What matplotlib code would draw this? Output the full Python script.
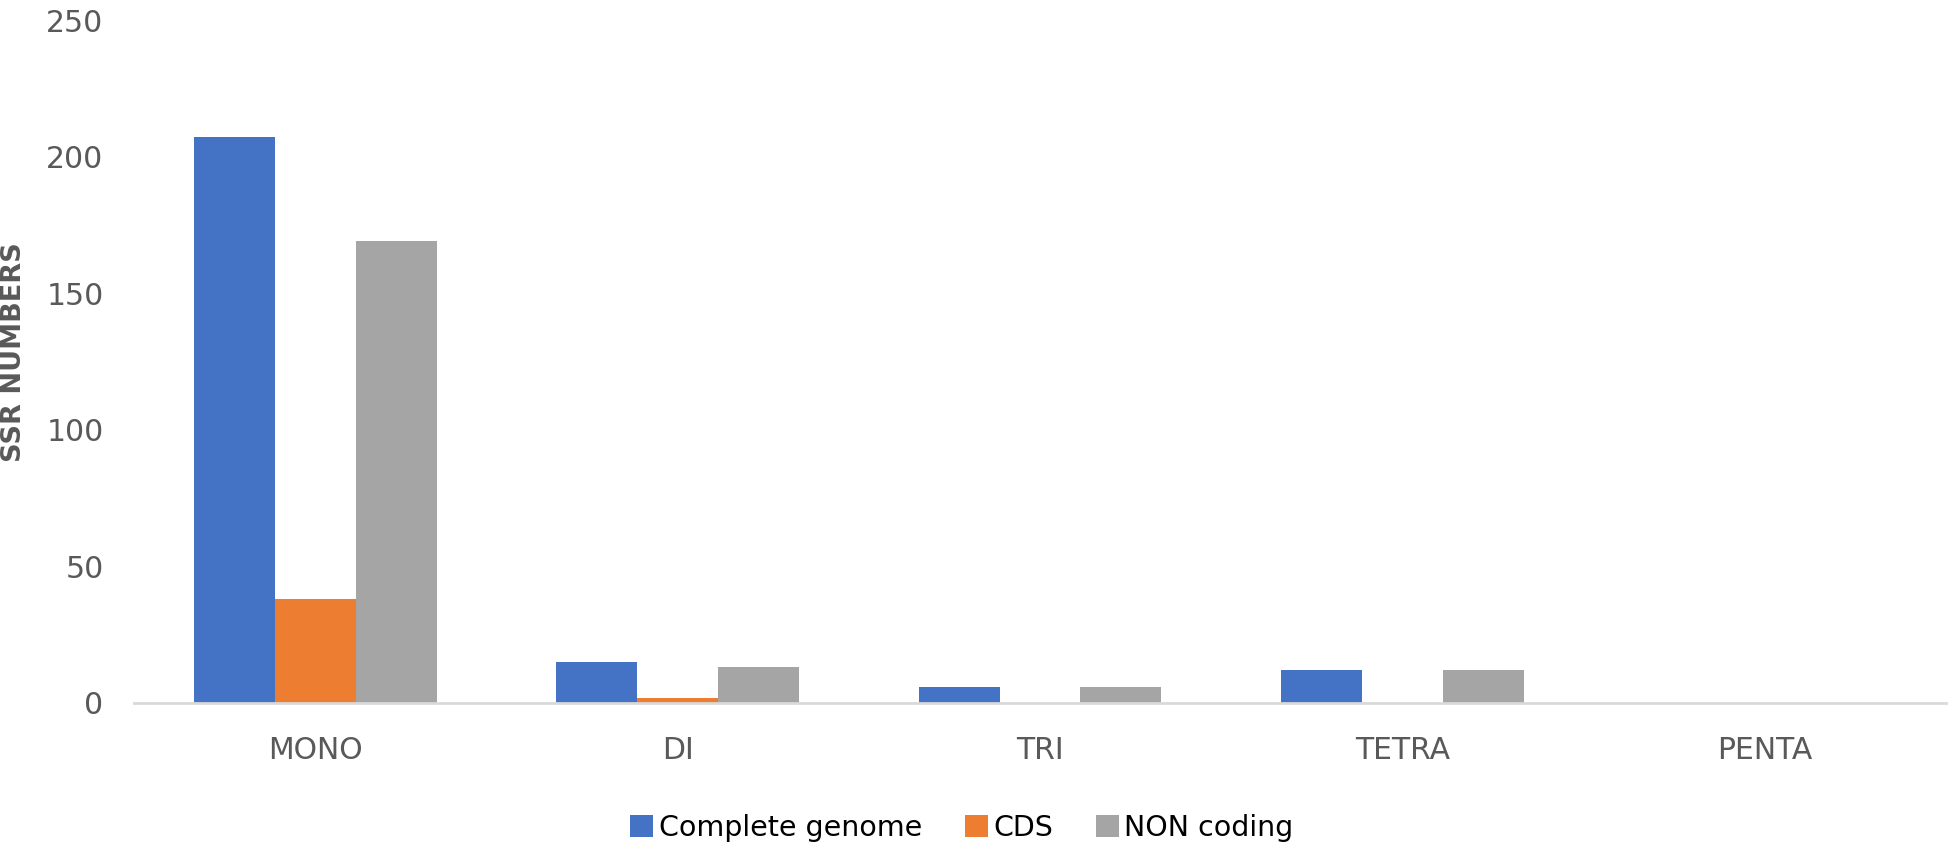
import matplotlib as mpl
mpl.use('Agg')
import matplotlib.pyplot as plt
import numpy as np

categories = ['MONO', 'DI', 'TRI', 'TETRA', 'PENTA']
complete_genome = [207, 15, 6, 12, 0]
cds = [38, 2, 0, 0, 0]
non_coding = [169, 13, 6, 12, 0]
yticks = [0, 50, 100, 150, 200, 250]

plt.rcParams['font.family'] = ['DejaVu Sans']
txt = '#595959'

fig = plt.figure(figsize=(19.48, 8.44), dpi=100)
ax = fig.add_axes([134/1948, 1-703/844, 1812/1948, 683/844])

x = np.arange(len(categories))
w = 0.2234
ax.bar(x - w, complete_genome, w, color='#4472C4', linewidth=0, label='Complete genome')
ax.bar(x, cds, w, color='#ED7D31', linewidth=0, label='CDS')
ax.bar(x + w, non_coding, w, color='#A5A5A5', linewidth=0, label='NON coding')

ax.set_xlim(-0.5, len(categories) - 0.5)
ax.set_ylim(0, 250)
ax.set_yticks(yticks)
ax.set_xticks(x)
ax.set_xticklabels(categories)
ax.tick_params(axis='both', length=0, labelsize=21.5, labelcolor=txt)
ax.tick_params(axis='x', pad=24)
ax.tick_params(axis='y', pad=22)
for s in ['top', 'right', 'left']:
    ax.spines[s].set_visible(False)
ax.spines['bottom'].set_color('#D9D9D9')
ax.spines['bottom'].set_linewidth(2)

fig.text(14/1948, 1-352/844, 'SSR NUMBERS', rotation=90, ha='center', va='center',
         fontsize=19.5, fontweight='bold', color=txt)

fig.legend(loc='center', bbox_to_anchor=(962/1948, 1-828/844), ncol=3, frameon=False,
           fontsize=20.5, handlelength=0.8, handleheight=0.8, handletextpad=0.2,
           columnspacing=1.5)

fig.savefig('out.png', dpi=100)
